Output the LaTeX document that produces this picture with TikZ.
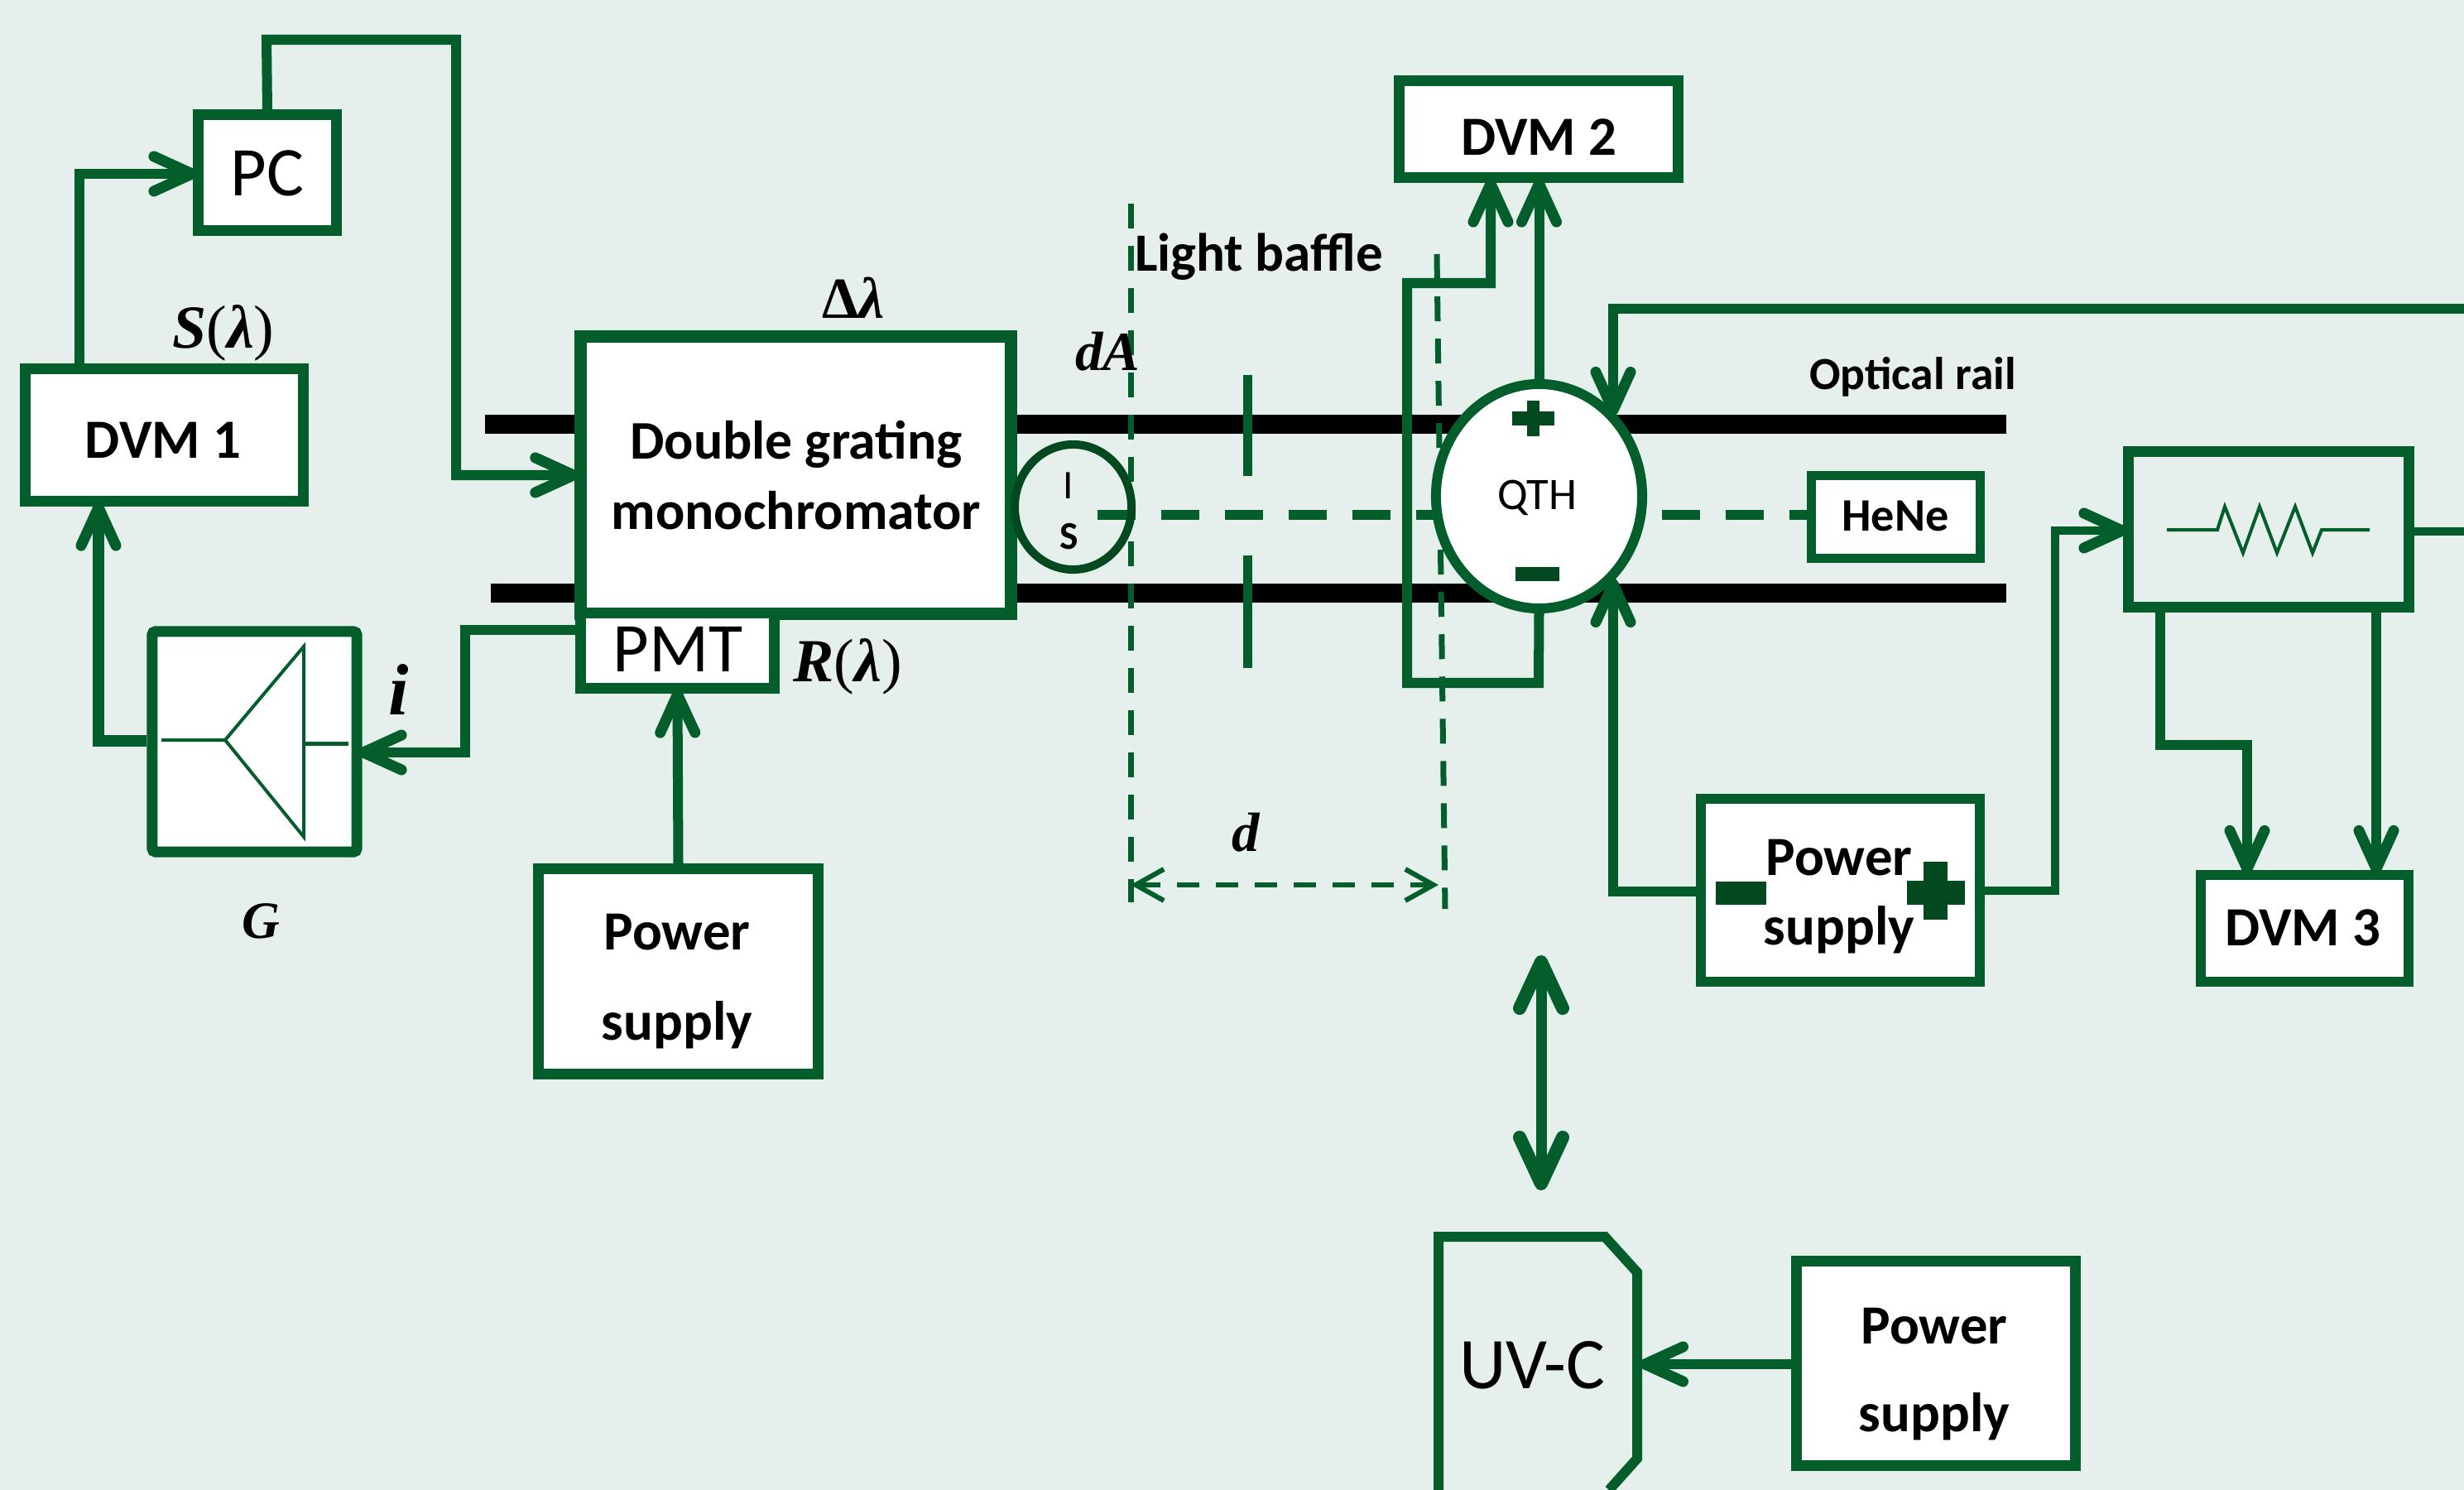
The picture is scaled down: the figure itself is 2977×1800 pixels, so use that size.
\documentclass[tikz,border=0pt]{standalone}
\usepackage{fontspec}
\setmainfont{Carlito}
\newfontfamily\mathserif{Liberation Serif}
\usetikzlibrary{arrows.meta,shapes.geometric}
\definecolor{bgc}{HTML}{E5EFEB}
\definecolor{grn}{HTML}{035E2B}
\definecolor{dkgrn}{HTML}{03491F}
\newcommand{\fz}[2]{\fontsize{#1}{#2}\selectfont}
\newcommand{\mb}[1]{{\mathserif\bfseries\itshape #1}}
\newcommand{\mr}[1]{{\mathserif #1}}
\newcommand{\mbu}[1]{{\mathserif\bfseries #1}}
\pgfdeclarelayer{back}
\pgfsetlayers{back,main}
\tikzset{
  box/.style={draw=grn,fill=white,line width=0.13cm,inner sep=0pt,rectangle},
  lbl/.style={inner sep=0pt,anchor=base,text=black},
  twoline/.style={inner sep=0pt,anchor=center,align=center,text=black},
  barb/.style={-{Straight Barb[length=0.46cm,width=0.42cm,line width=0.13cm,round]},shorten >=-0.05cm},
  conn/.style={draw=grn,line width=0.12cm,miter limit=10,barb},
  wire/.style={draw=grn,line width=0.11cm},
  bigbarb/.style={draw=grn,line width=0.13cm,{Straight Barb[length=0.56cm,width=0.52cm,line width=0.16cm,round]}-{Straight Barb[length=0.56cm,width=0.52cm,line width=0.16cm,round]}},
  rail/.style={draw=black,line width=0.23cm},
  beam/.style={draw=grn,line width=0.11cm,dash pattern=on 0.46cm off 0.31cm},
  refline/.style={draw=grn,line width=0.07cm,dash pattern=on 0.30cm off 0.21cm},
  dimline/.style={draw=grn,line width=0.06cm,dash pattern=on 0.27cm off 0.20cm,{Straight Barb[length=0.34cm,width=0.38cm]}-{Straight Barb[length=0.34cm,width=0.38cm]}},
  baffle/.style={draw=grn,line width=0.11cm},
  fine/.style={draw=grn,line width=0.04cm},
  sign/.style={fill=dkgrn},
}
\begin{document}
\begin{tikzpicture}[x=0.01cm,y=-0.01cm]
\useasboundingbox (0,0) rectangle (2977,1800);
% boxes
\node[box,minimum width=1.66cm,minimum height=1.39cm] (pc) at (323,208.5) {};
\node[box,minimum width=3.35cm,minimum height=1.59cm] (dvmone) at (198.5,525.5) {};
\node[box,line width=0.15cm,minimum width=5.19cm,minimum height=3.34cm] (mono) at (961.5,574) {};
\node[box,minimum width=2.33cm,minimum height=0.90cm] (pmt) at (818.5,786) {};
\node[box,rounded corners=0.04cm,minimum width=2.47cm,minimum height=2.66cm] (amp) at (307.5,896) {};
\node[box,minimum width=3.37cm,minimum height=2.47cm] (psa) at (819.5,1173.5) {};
\node[box,minimum width=3.36cm,minimum height=1.16cm] (dvmtwo) at (1859,156) {};
\node[box,line width=0.11cm,minimum width=2.03cm,minimum height=0.99cm] (hene) at (2290.5,624.5) {};
\node[box,fill=none,minimum width=3.38cm,minimum height=1.87cm] (res) at (2741,639.5) {};
\node[box,line width=0.12cm,minimum width=3.37cm,minimum height=2.21cm] (psb) at (2223.5,1075.5) {};
\node[box,line width=0.12cm,minimum width=2.51cm,minimum height=1.29cm] (dvmthree) at (2784.5,1121.5) {};
\node[box,minimum width=3.36cm,minimum height=2.46cm] (psc) at (2339,1647) {};
\node[draw=grn,fill=white,line width=0.12cm,ellipse,inner sep=0pt,minimum width=2.49cm,minimum height=2.71cm] (qth) at (1859.5,599.5) {};
\node[draw=dkgrn,line width=0.10cm,ellipse,inner sep=0pt,minimum width=1.41cm,minimum height=1.51cm] (src) at (1296.5,612.5) {};
% named free ends
\coordinate (railA) at (586,512.5);
\coordinate (railB) at (2424,512.5);
\coordinate (railC) at (593,716.5);
\coordinate (railD) at (2424,716.5);
\coordinate (beamA) at (1326,622);
\coordinate (beamB) at (1800,622);
\coordinate (beamC) at (1854,622);
\coordinate (lvA) at (1366,246);
\coordinate (lvB) at (1366,1090);
\coordinate (rvA) at (1736,307);
\coordinate (rvB) at (1746,1098);
\coordinate (dimA) at (1366,1069);
\coordinate (dimB) at (1738,1069);
\coordinate (edgeA) at (2977,642);
\coordinate (edgeB) at (2977,373);
\coordinate (qthtip) at (1949,497);
\coordinate (qthbot) at (1949,704);
\coordinate (uvctip) at (1986,1648);
\coordinate (moveA) at (1862,1154);
\coordinate (moveB) at (1862,1438);
% UV-C body
\draw[draw=grn,line width=0.12cm,miter limit=10] (1738,1800) -- (1738,1494) -- (1939,1494) -- (1978,1537) -- (1978,1762) -- (1944,1800);
% texts
\node[lbl,font=\fz{24}{24}] (pct) at (323,237) {PC};
\node[lbl,font=\fz{19}{23}\bfseries] (dvmonet) at (197,553) {DVM 1};
\node[lbl,font=\fz{19}{23}\bfseries] (dvmtwot) at (1859,188) {DVM 2};
\node[lbl,font=\fz{19}{23}\bfseries] (dvmthreet) at (2782,1142) {DVM 3};
\node[lbl,font=\fz{21}{23}] (sl) at (270,421) {\mb{S}\mr{(}\mb{λ}\mr{)}};
\node[lbl,font=\fz{21}{23}] (rl) at (1024,823) {\mb{R}\mr{(}\mb{λ}\mr{)}};
\node[lbl,font=\fz{20}{23}] (dl) at (1031,385) {\mbu{Δ}\mb{λ}};
\node[lbl,font=\fz{19}{23}] (da) at (1338,447) {\mb{dA}};
\node[lbl,font=\fz{19}{23}] (dd) at (1505,1028) {\mb{d}};
\node[lbl,font=\fz{25}{25}] (ii) at (482,863) {\mb{i}};
\node[lbl,font=\fz{18}{23}] (gg) at (315,1133) {\mb{G}};
\node[twoline,font=\fz{18.7}{24}\bfseries] (monot) at (962,574) {Double grating\\monochromator};
\node[lbl,font=\fz{24}{25}] (pmtt) at (819,811) {PMT};
\node[twoline,font=\fz{19}{31}\bfseries] (psat) at (818,1186) {Power\\supply};
\node[twoline,font=\fz{19}{24}\bfseries] (psbt) at (2222,1083) {Power\\supply};
\node[twoline,font=\fz{19}{30}\bfseries] (psct) at (2337,1660) {Power\\supply};
\node[lbl,font=\fz{18.5}{20}\bfseries] (lb) at (1521,328) {Light baffle};
\node[lbl,font=\fz{15.8}{20}\bfseries] (or) at (2311,471) {Optical rail};
\node[lbl,font=\fz{15.5}{20}] (qtht) at (1857,615) {QTH};
\node[lbl,font=\fz{16}{20}\bfseries] (henet) at (2290,641) {HeNe};
\node[lbl,font=\fz{25}{25}] (uvct) at (1851,1677) {UV-C};
\node[lbl,font=\fz{14}{16}] (srci) at (1291,602) {I};
\node[lbl,font=\fz{13.5}{16}\bfseries] (srcs) at (1292,663) {S};
% signs
\fill[sign] (1845,484) rectangle (1860,527);
\fill[sign] (1827,497) rectangle (1878,514);
\fill[sign] (1831,685) rectangle (1884,702);
\fill[sign] (2073,1065) rectangle (2134,1093);
\fill[sign] (2324,1041) rectangle (2353,1111);
\fill[sign] (2304,1064) rectangle (2374,1093);
% amplifier and resistor symbols
\draw[fine] (195,894) -- (272,894) -- (367,781) -- (367,1011) -- (272,894);
\draw[fine,line width=0.05cm] (369,898) -- (421,898);
\draw[fine] (2618,640) -- (2679,640) -- (2688,612) -- (2710,668) -- (2730,612) -- (2751,668) -- (2773,612) -- (2794,668) -- (2805,640) -- (2863,640);
\begin{pgfonlayer}{back}
\fill[bgc] (0,0) rectangle (2977,1800);
\draw[rail] (railA) -- (railB);
\draw[rail] (railC) -- (railD);
\draw[baffle] (1507,453) -- (1507,575);
\draw[baffle] (1507,671) -- (1507,807);
\draw[refline] (lvA) -- (lvB);
\draw[refline] (rvA) -- (rvB);
\draw[dimline] (dimA) -- (dimB);
\draw[beam] (beamA) -- (beamB);
\draw[beam] (beamC) -- (hene.west |- beamC);
% connectors
\draw[conn] (dvmone.north -| 96,0) |- (pc.west |- 0,210);
\draw[conn] (pc.north) -- (322,48) -- (551,48) -- (551,574) -- (mono.west |- 0,574);
\draw[conn] (pmt.west |- 0,761) -- (562,761) -- (562,909) -- (amp.east |- 0,909);
\draw[conn,line width=0.14cm] (amp.west |- 0,895) -| (dvmone.south -| 119,0);
\draw[conn] (psa.north) -- (pmt.south);
\draw[conn] (qth.north) -- (dvmtwo.south -| qth.north);
\draw[conn] (qth.south) -- (1859,825) -- (1700,825) -- (1700,342) -- (1801,342) -- (dvmtwo.south -| 1801,0);
\draw[conn] (edgeB) -| (qthtip);
\draw[conn] (psb.west |- 0,1077) -| (qthbot);
\draw[conn,line width=0.10cm] (psb.east |- 0,1076) -- (2483,1076) -- (2483,641) -- (res.west |- 0,641);
\draw[wire,line width=0.09cm] (res.east |- edgeA) -- (edgeA);
\draw[conn,line width=0.12cm] (res.south -| 2610,0) -- (2610,900) -- (2715,900) -- (dvmthree.north -| 2715,0);
\draw[conn,line width=0.12cm] (res.south -| 2871,0) -- (dvmthree.north -| 2871,0);
\draw[bigbarb] (moveA) -- (moveB);
\draw[conn,line width=0.12cm] (psc.west |- uvctip) -- (uvctip);
\end{pgfonlayer}
\end{tikzpicture}
\end{document}
